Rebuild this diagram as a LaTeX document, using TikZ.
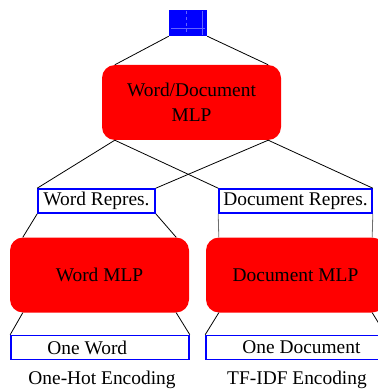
\documentclass[tikz,border=0pt]{standalone}
\usepackage{fontspec}
\setmainfont{Liberation Serif}
\usetikzlibrary{positioning}

\definecolor{gridblue}{RGB}{100,100,255}
\definecolor{linkgray}{RGB}{110,110,110}

\begin{document}
\begin{tikzpicture}[x=1pt,y=-1pt,
  mlp/.style={fill=red,rounded corners=13pt,minimum width=179pt,minimum height=75pt,align=center,inner sep=0pt},
  repbox/.style={draw=blue,line width=1.6pt,fill=white,minimum height=24pt,inner sep=0pt},
  link/.style={black,line width=0.8pt},
  font=\fontsize{19.4}{25}\selectfont]
  \useasboundingbox (0,0) rectangle (377,390);

  % grid on top
  \node[fill=blue,minimum width=38pt,minimum height=26pt,inner sep=0pt] (grid) at (188,23) {};
  \draw[gridblue,line width=0.6pt,dashed] (186,11) -- (186,35);
  \draw[gridblue,line width=0.6pt] (202,11) -- (202,35);
  \draw[gridblue,line width=0.6pt] (171,28) -- (205,28);

  \node[mlp] (top) at (191.5,102.5) {Word/Document\\MLP};

  \node[repbox,minimum width=117pt] (wrep) at (96.5,201) {Word Repres.};
  \node[repbox,minimum width=153pt] (drep) at (295.5,201) {Document Repres.};

  \node[mlp] (wmlp) at (99.5,275) {Word MLP};
  \node[mlp] (dmlp) at (295.5,275) {Document MLP};

  \node[repbox,minimum width=178pt] (wone) at (100,347.5) {};
  \node[repbox,minimum width=179pt] (done) at (295.5,347.5) {};
  \node[anchor=west,inner sep=0pt] (wonet) at ([xshift=37pt]wone.west) {One Word};
  \node[anchor=west,inner sep=0pt] (donet) at ([xshift=37pt]done.west) {One Document};

  \node (wenc) at (102,380) {One-Hot Encoding};
  \node (denc) at (297,380) {TF-IDF Encoding};

  \draw[link] (grid.south west) -- ([xshift=13pt]top.north west);
  \draw[link] (grid.south east) -- ([xshift=-13pt]top.north east);
  \foreach \r in {wrep,drep} {
    \draw[link] ([xshift=13pt]top.south west) -- (\r.north west);
    \draw[link] ([xshift=-13pt]top.south east) -- (\r.north east);
  }
  \draw[link] (wrep.south west) -- ([xshift=13pt]wmlp.north west);
  \draw[link] (wrep.south east) -- ([xshift=-13pt]wmlp.north east);
  \draw[link,linkgray] (drep.south west) -- ([xshift=13pt]dmlp.north west);
  \draw[link,linkgray] (drep.south east) -- ([xshift=-13pt]dmlp.north east);
  \foreach \m/\b in {wmlp/wone,dmlp/done} {
    \draw[link] ([xshift=13pt]\m.south west) -- (\b.north west);
    \draw[link] ([xshift=-13pt]\m.south east) -- (\b.north east);
  }
\end{tikzpicture}
\end{document}
